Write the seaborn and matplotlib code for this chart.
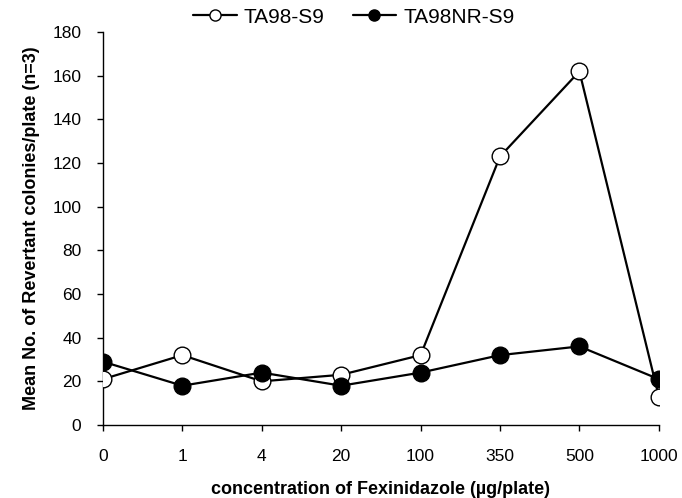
import matplotlib
matplotlib.use("Agg")
import matplotlib.pyplot as plt
import seaborn as sns
import pandas as pd

concentrations = ["0", "1", "4", "20", "100", "350", "500", "1000"]
ta98_s9 = [21, 32, 20, 23, 32, 123, 162, 13]
ta98nr_s9 = [29, 18, 24, 18, 24, 32, 36, 21]
y_ticks = [0, 20, 40, 60, 80, 100, 120, 140, 160, 180]

sns.set_theme(style="ticks")
plt.rcParams['font.family'] = ['Liberation Sans', 'DejaVu Sans']
plt.rcParams['text.color'] = 'black'
plt.rcParams['axes.labelcolor'] = 'black'

fig = plt.figure(figsize=(6.82, 4.98), dpi=100)
ax = fig.add_axes([0.151, 0.1466, 0.815, 0.789])

df1 = pd.DataFrame({"conc": concentrations, "val": ta98_s9})
df2 = pd.DataFrame({"conc": concentrations, "val": ta98nr_s9})

sns.lineplot(data=df1, x="conc", y="val", ax=ax, color="black", lw=1.6,
             marker="o", markersize=12, markerfacecolor="white",
             markeredgecolor="black", markeredgewidth=1.0, label="TA98-S9",
             zorder=3)
sns.lineplot(data=df2, x="conc", y="val", ax=ax, color="black", lw=1.6,
             marker="o", markersize=12, markerfacecolor="black",
             markeredgecolor="black", markeredgewidth=1.0, label="TA98NR-S9",
             zorder=4)

ax.set_xlim(0, len(concentrations) - 1)
ax.set_ylim(0, 180)
ax.set_yticks(y_ticks)
ax.set_xticks(range(len(concentrations)))
ax.set_xticklabels(concentrations)
ax.tick_params(axis="both", labelsize=12.5, length=4.5, width=1, color="black",
               labelcolor="black", direction="out")
ax.tick_params(axis="x", pad=13)
ax.tick_params(axis="y", pad=11)
for s in ["top", "right"]:
    ax.spines[s].set_visible(False)
for s in ["left", "bottom"]:
    ax.spines[s].set_color("black")
    ax.spines[s].set_linewidth(1.0)

ax.set_xlabel("concentration of Fexinidazole (µg/plate)", fontsize=13,
              fontweight="bold", labelpad=12)
ax.set_ylabel("Mean No. of Revertant colonies/plate (n=3)", fontsize=13,
              fontweight="bold", labelpad=9)

leg = ax.legend(loc="center", bbox_to_anchor=(0.451, 1.038), ncol=2,
                frameon=False, fontsize=15, handlelength=2.1,
                columnspacing=1.35, handletextpad=0.33, borderaxespad=0)
for h in leg.legend_handles:
    h.set_markersize(8)

fig.savefig("out.png", dpi=100)
